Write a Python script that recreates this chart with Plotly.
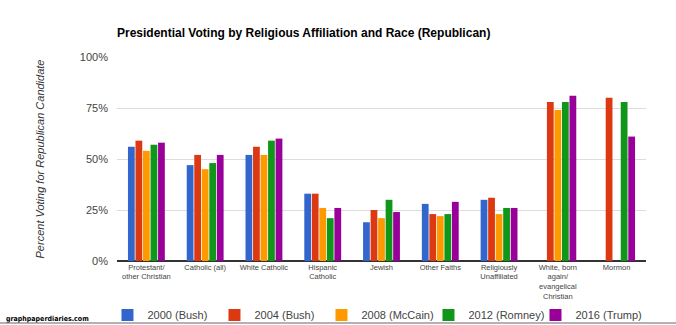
import plotly.graph_objects as go

categories = ["Protestant/<br>other Christian", "Catholic (all)", "White Catholic",
              "Hispanic<br>Catholic", "Jewish", "Other Faiths",
              "Religiously<br>Unaffiliated", "White, born<br>again/<br>evangelical<br>Christian",
              "Mormon"]
series_names = ["2000 (Bush)", "2004 (Bush)", "2008 (McCain)", "2012 (Romney)", "2016 (Trump)"]
v2000 = [56, 47, 52, 33, 19, 28, 30, None, None]
v2004 = [59, 52, 56, 33, 25, 23, 31, 78, 80]
v2008 = [54, 45, 52, 26, 21, 22, 23, 74, None]
v2012 = [57, 48, 59, 21, 30, 23, 26, 78, 78]
v2016 = [58, 52, 60, 26, 24, 29, 26, 81, 61]
colors = ["#3366cc", "#dc3912", "#ff9900", "#109618", "#990099"]

fig = go.Figure()
for name, vals, c in zip(series_names, [v2000, v2004, v2008, v2012, v2016], colors):
    fig.add_trace(go.Bar(x=categories, y=[None if v is None else v / 100 for v in vals],
                         name=name, marker=dict(color=c, line=dict(width=0))))

fig.update_layout(
    width=676, height=325,
    margin=dict(l=117, r=30, t=57, b=64, autoexpand=False),
    paper_bgcolor="white", plot_bgcolor="white",
    font=dict(family="Liberation Sans, Arial, sans-serif", color="#444"),
    barmode="group", bargap=0.36, bargroupgap=0.1,
    title=dict(text="<b>Presidential Voting by Religious Affiliation and Race (Republican)</b>",
               x=117 / 676, xanchor="left", y=1 - 33 / 325, yanchor="middle",
               font=dict(size=12, color="#000")),
    xaxis=dict(tickfont=dict(size=7.5, color="#444"), showgrid=False, ticks="",
               showline=False, automargin=False),
    yaxis=dict(range=[0, 1], tickvals=[0, 0.25, 0.5, 0.75, 1.0],
               ticktext=["0%", "25%", "50%", "75%", "100%"],
               tickfont=dict(size=11, color="#444"), gridcolor="#dddddd", gridwidth=1,
               zeroline=True, zerolinecolor="#333333", zerolinewidth=1.5,
               ticks="", ticklabelstandoff=8, automargin=False,
               title=dict(text="<i>Percent Voting for Republican Candidate</i>",
                          font=dict(size=11, color="#333"), standoff=33)),
    legend=dict(orientation="h", x=-0.018, xanchor="left", y=-0.265, yanchor="middle",
                font=dict(size=11, color="#444"), itemwidth=30,
                entrywidth=62, entrywidthmode="pixels",
                traceorder="normal", bgcolor="rgba(0,0,0,0)"),
    showlegend=True,
)

fig.add_annotation(text="<b>graphpaperdiaries.com</b>", xref="paper", yref="paper",
                   x=(4 - 117) / 529, y=-0.285, xanchor="left", yanchor="middle",
                   showarrow=False, font=dict(size=7, color="#000", family="DejaVu Sans Condensed, Liberation Sans Narrow, sans-serif"))
fig.add_shape(type="line", xref="paper", yref="paper", x0=-117 / 529, x1=(676 - 117) / 529,
              y0=-(323 - 261) / 204, y1=-(323 - 261) / 204, line=dict(color="#999", width=1.5))

fig.write_html("out.html")
